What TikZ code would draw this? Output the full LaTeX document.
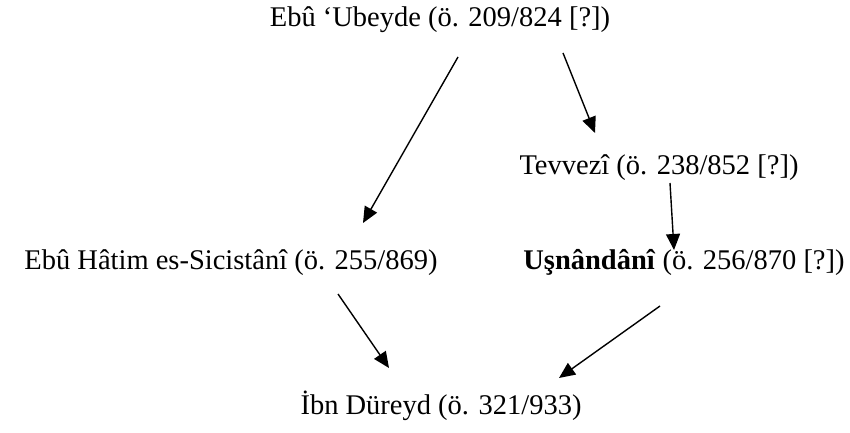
\documentclass[tikz,border=0pt]{standalone}
\usepackage{fontspec}
\setmainfont{Liberation Serif}
\usetikzlibrary{arrows.meta}
\tikzset{
  person/.style={inner sep=0pt, anchor=base, font=\fontsize{28.5}{34}\selectfont},
  link/.style={line width=1.4pt, -{Triangle[length=16pt,width=14pt]}}
}
\begin{document}
\begin{tikzpicture}[x=1pt,y=1pt]
\useasboundingbox (0,0) rectangle (850,433);

% Names
\node [person] (ubeyde) at (440,406) {Ebû ‘Ubeyde (ö. 209/824 [?])};
\node [person] (tevvezi) at (659,258) {Tevvezî (ö. 238/852 [?])};
\node [person] (hatim) at (231,163) {Ebû Hâtim es-Sicistânî (ö. 255/869)};
\node [person] (usnandani) at (684,163) {\textbf{Uşnândânî} (ö. 256/870 [?])};
\node [person] (dureyd) at (441,18) {İbn Düreyd (ö. 321/933)};

% Arrow ends
\coordinate (u1) at (458,376);
\coordinate (h1) at (363,210);
\coordinate (u2) at (563,380);
\coordinate (t1) at (595,300);
\coordinate (t2) at (670,250);
\coordinate (s1) at (674,183);
\coordinate (s2) at (660,127);
\coordinate (d1) at (559,55);
\coordinate (h2) at (338,139);
\coordinate (d2) at (389,65);

% Drawing arrows
\draw [link] (u1) -- (h1);
\draw [link] (u2) -- (t1);
\draw [link] (t2) -- (s1);
\draw [link] (s2) -- (d1);
\draw [link] (h2) -- (d2);
\end{tikzpicture}
\end{document}
